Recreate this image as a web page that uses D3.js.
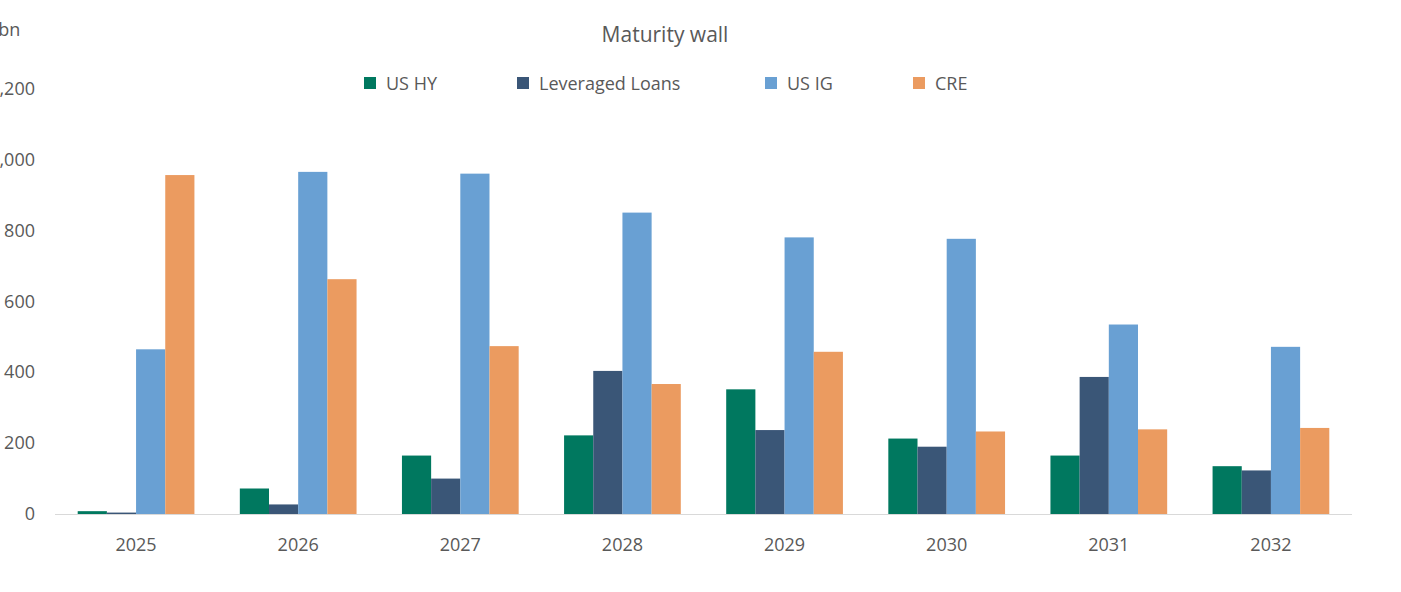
<!DOCTYPE html><html><head><meta charset="utf-8">
<script src="https://cdn.jsdelivr.net/npm/d3@7"></script>
<style>body{margin:0;background:#fff}text{font-family:"Open Sans",sans-serif;fill:#595959}</style></head><body>
<svg id="c" width="1401" height="592"></svg>
<script>
const years=["2025","2026","2027","2028","2029","2030","2031","2032"];
const seriesNames=["US HY","Leveraged Loans","US IG","CRE"];
const usHY=[8,72,165,222,352,213,165,135];
const levLoans=[4,27,100,404,237,190,387,123];
const usIG=[465,966,961,851,781,777,535,472];
const cre=[957,663,474,367,458,233,239,243];
const colors=["#00785f","#3a5677","#69a0d3","#eb9b60"];
const yTicks=[0,200,400,600,800,1000,1200];
const yTickLabels=["0","200","400","600","800","1,000","1,200"];
const data=[usHY,levLoans,usIG,cre];
const svg=d3.select("#c");
const x=d3.scaleBand().domain(years).range([55,1352]).paddingInner(0.28).paddingOuter(0.14);
const xs=d3.scaleBand().domain(seriesNames).range([0,x.bandwidth()]);
const y=d3.scaleLinear().domain([0,1200]).range([514,89]);
years.forEach((yr,i)=>{seriesNames.forEach((s,j)=>{
 svg.append("rect").attr("x",x(yr)+xs(s)).attr("width",xs.bandwidth()).attr("y",y(data[j][i])).attr("height",y(0)-y(data[j][i])).attr("fill",colors[j]);});});
svg.append("line").attr("x1",55).attr("x2",1352).attr("y1",y(0)+0.5).attr("y2",y(0)+0.5).attr("stroke","#d9d9d9");
yTicks.forEach((t,i)=>svg.append("text").attr("x",35).attr("y",y(t)+6).attr("text-anchor","end").attr("font-size",18).text(yTickLabels[i]));
years.forEach(yr=>svg.append("text").attr("x",x(yr)+x.bandwidth()/2).attr("y",551).attr("text-anchor","middle").attr("font-size",18).text(yr));
svg.append("text").attr("x",-12).attr("y",36).attr("font-size",18).text("$bn");
svg.append("text").attr("x",665).attr("y",42).attr("text-anchor","middle").attr("font-size",21).text("Maturity wall");
const lx=[370,523,771,919];
seriesNames.forEach((s,j)=>{svg.append("rect").attr("x",lx[j]-6).attr("y",77).attr("width",12).attr("height",12).attr("fill",colors[j]);
 svg.append("text").attr("x",lx[j]+16).attr("y",90).attr("font-size",18).text(s);});
</script></body></html>
